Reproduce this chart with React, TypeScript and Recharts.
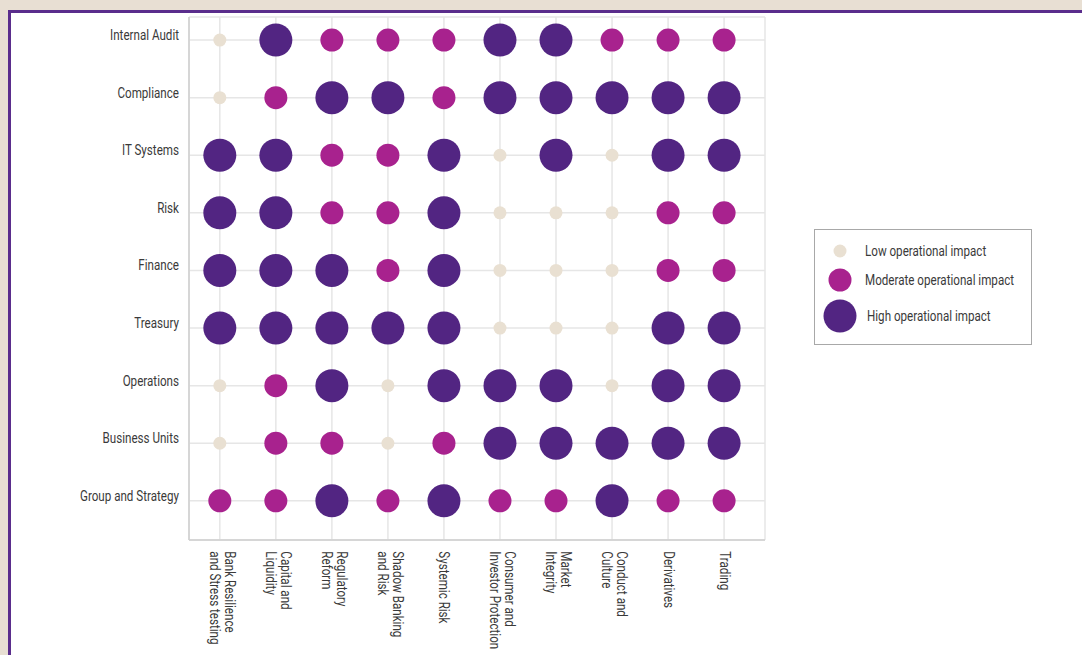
import { ScatterChart, Scatter, XAxis, YAxis, CartesianGrid } from 'recharts'

const topics = [
  'Bank Resilience\nand Stress testing',
  'Capital and\nLiquidity',
  'Regulatory\nReform',
  'Shadow Banking\nand Risk',
  'Systemic Risk',
  'Consumer and\nInvestor Protection',
  'Market\nIntegrity',
  'Conduct and\nCulture',
  'Derivatives',
  'Trading',
]

const functions = [
  'Internal Audit',
  'Compliance',
  'IT Systems',
  'Risk',
  'Finance',
  'Treasury',
  'Operations',
  'Business Units',
  'Group and Strategy',
]

// 1 = low, 2 = moderate, 3 = high (one row per function, one value per topic)
const internalAudit = [1, 3, 2, 2, 2, 3, 3, 2, 2, 2]
const compliance = [1, 2, 3, 3, 2, 3, 3, 3, 3, 3]
const itSystems = [3, 3, 2, 2, 3, 1, 3, 1, 3, 3]
const risk = [3, 3, 2, 2, 3, 1, 1, 1, 2, 2]
const finance = [3, 3, 3, 2, 3, 1, 1, 1, 2, 2]
const treasury = [3, 3, 3, 3, 3, 1, 1, 1, 3, 3]
const operations = [1, 2, 3, 1, 3, 3, 3, 1, 3, 3]
const businessUnits = [1, 2, 2, 1, 2, 3, 3, 3, 3, 3]
const groupStrategy = [2, 2, 3, 2, 3, 2, 2, 3, 2, 2]

const impactRows = [
  internalAudit,
  compliance,
  itSystems,
  risk,
  finance,
  treasury,
  operations,
  businessUnits,
  groupStrategy,
]

const levels = [
  { level: 1, name: 'Low operational impact', color: '#e9e0d2', r: 6.5 },
  { level: 2, name: 'Moderate operational impact', color: '#a8228e', r: 11.5 },
  { level: 3, name: 'High operational impact', color: '#522582', r: 16.5 },
]

const FONT = '"Liberation Sans Narrow", "Roboto", sans-serif'
// no condensed face installed, so squeeze text horizontally
const SQUEEZE = 0.83

const pointsFor = (level: number) => {
  const out: { x: number; y: number }[] = []
  impactRows.forEach((row, y) => {
    row.forEach((v, x) => {
      if (v === level) out.push({ x, y })
    })
  })
  return out
}

const XTick = ({ x, y, payload }: any) => {
  const lines = String(topics[payload.value] ?? '').split('\n')
  const n = lines.length
  return (
    <g transform={`translate(${x},${y}) rotate(90) scale(${SQUEEZE},1)`}>
      <text fontFamily={FONT} fontSize={14} fill="#3a3a3a" textAnchor="start">
        {lines.map((l, i) => (
          <tspan key={i} x={4} y={4.5 + (i - (n - 1) / 2) * 15 - (n > 1 ? 2 : 0)}>
            {l}
          </tspan>
        ))}
      </text>
    </g>
  )
}

const YTick = ({ x, y, payload }: any) => (
  <g transform={`translate(${x - 2},${y}) scale(${SQUEEZE},1)`}>
    <text x={0} y={0} textAnchor="end" fontFamily={FONT} fontSize={14} fill="#3a3a3a">
      {functions[payload.value]}
    </text>
  </g>
)

export default function App() {
  return (
    <div
      style={{
        position: 'fixed',
        left: 0,
        top: 0,
        width: 1082,
        height: 655,
        background: '#e8dfd3',
        overflow: 'hidden',
      }}
    >
      <div
        style={{
          position: 'absolute',
          left: 8,
          top: 10,
          width: 1100,
          height: 700,
          border: '3px solid #5a2d8c',
          background: '#ffffff',
        }}
      />
      <div style={{ position: 'absolute', left: 0, top: 0 }}>
        <ScatterChart width={1082} height={655} margin={{ top: 17, right: 317, bottom: 5, left: 59 }}>
          <CartesianGrid stroke="#e6e6e6" strokeWidth={1.5} />
          <XAxis
            type="number"
            dataKey="x"
            domain={[-0.55, 9.73]}
            ticks={[0, 1, 2, 3, 4, 5, 6, 7, 8, 9]}
            interval={0}
            height={110}
            axisLine={{ stroke: '#cfcfcf', strokeWidth: 1.5 }}
            tickLine={false}
            tick={<XTick />}
            allowDataOverflow
          />
          <YAxis
            type="number"
            dataKey="y"
            domain={[-0.4, 8.68]}
            reversed
            ticks={[0, 1, 2, 3, 4, 5, 6, 7, 8]}
            interval={0}
            width={130}
            axisLine={{ stroke: '#cfcfcf', strokeWidth: 1.5 }}
            tickLine={false}
            tick={<YTick />}
            allowDataOverflow
          />
          {levels.map((lv) => (
            <Scatter
              key={lv.level}
              name={lv.name}
              data={pointsFor(lv.level)}
              fill={lv.color}
              isAnimationActive={false}
              shape={(p: any) => <circle cx={p.cx} cy={p.cy} r={lv.r} fill={lv.color} />}
            />
          ))}
        </ScatterChart>
      </div>
      <div
        style={{
          position: 'absolute',
          left: 814,
          top: 229,
          width: 216,
          height: 114,
          border: '1px solid #a8a8a8',
          background: '#fff',
        }}
      >
        <svg width={216} height={114} style={{ position: 'absolute', left: 0, top: 0 }}>
          {levels.map((lv, i) => {
            const cy = [21, 50, 86][i]
            return (
              <g key={lv.level}>
                <circle cx={25} cy={cy} r={lv.r} fill={lv.color} />
                <g transform={`translate(${i === 2 ? 52 : 50},${cy + 5}) scale(${SQUEEZE},1)`}>
                  <text x={0} y={0} fontFamily={FONT} fontSize={14} fill="#3a3a3a">
                    {lv.name}
                  </text>
                </g>
              </g>
            )
          })}
        </svg>
      </div>
    </div>
  )
}
